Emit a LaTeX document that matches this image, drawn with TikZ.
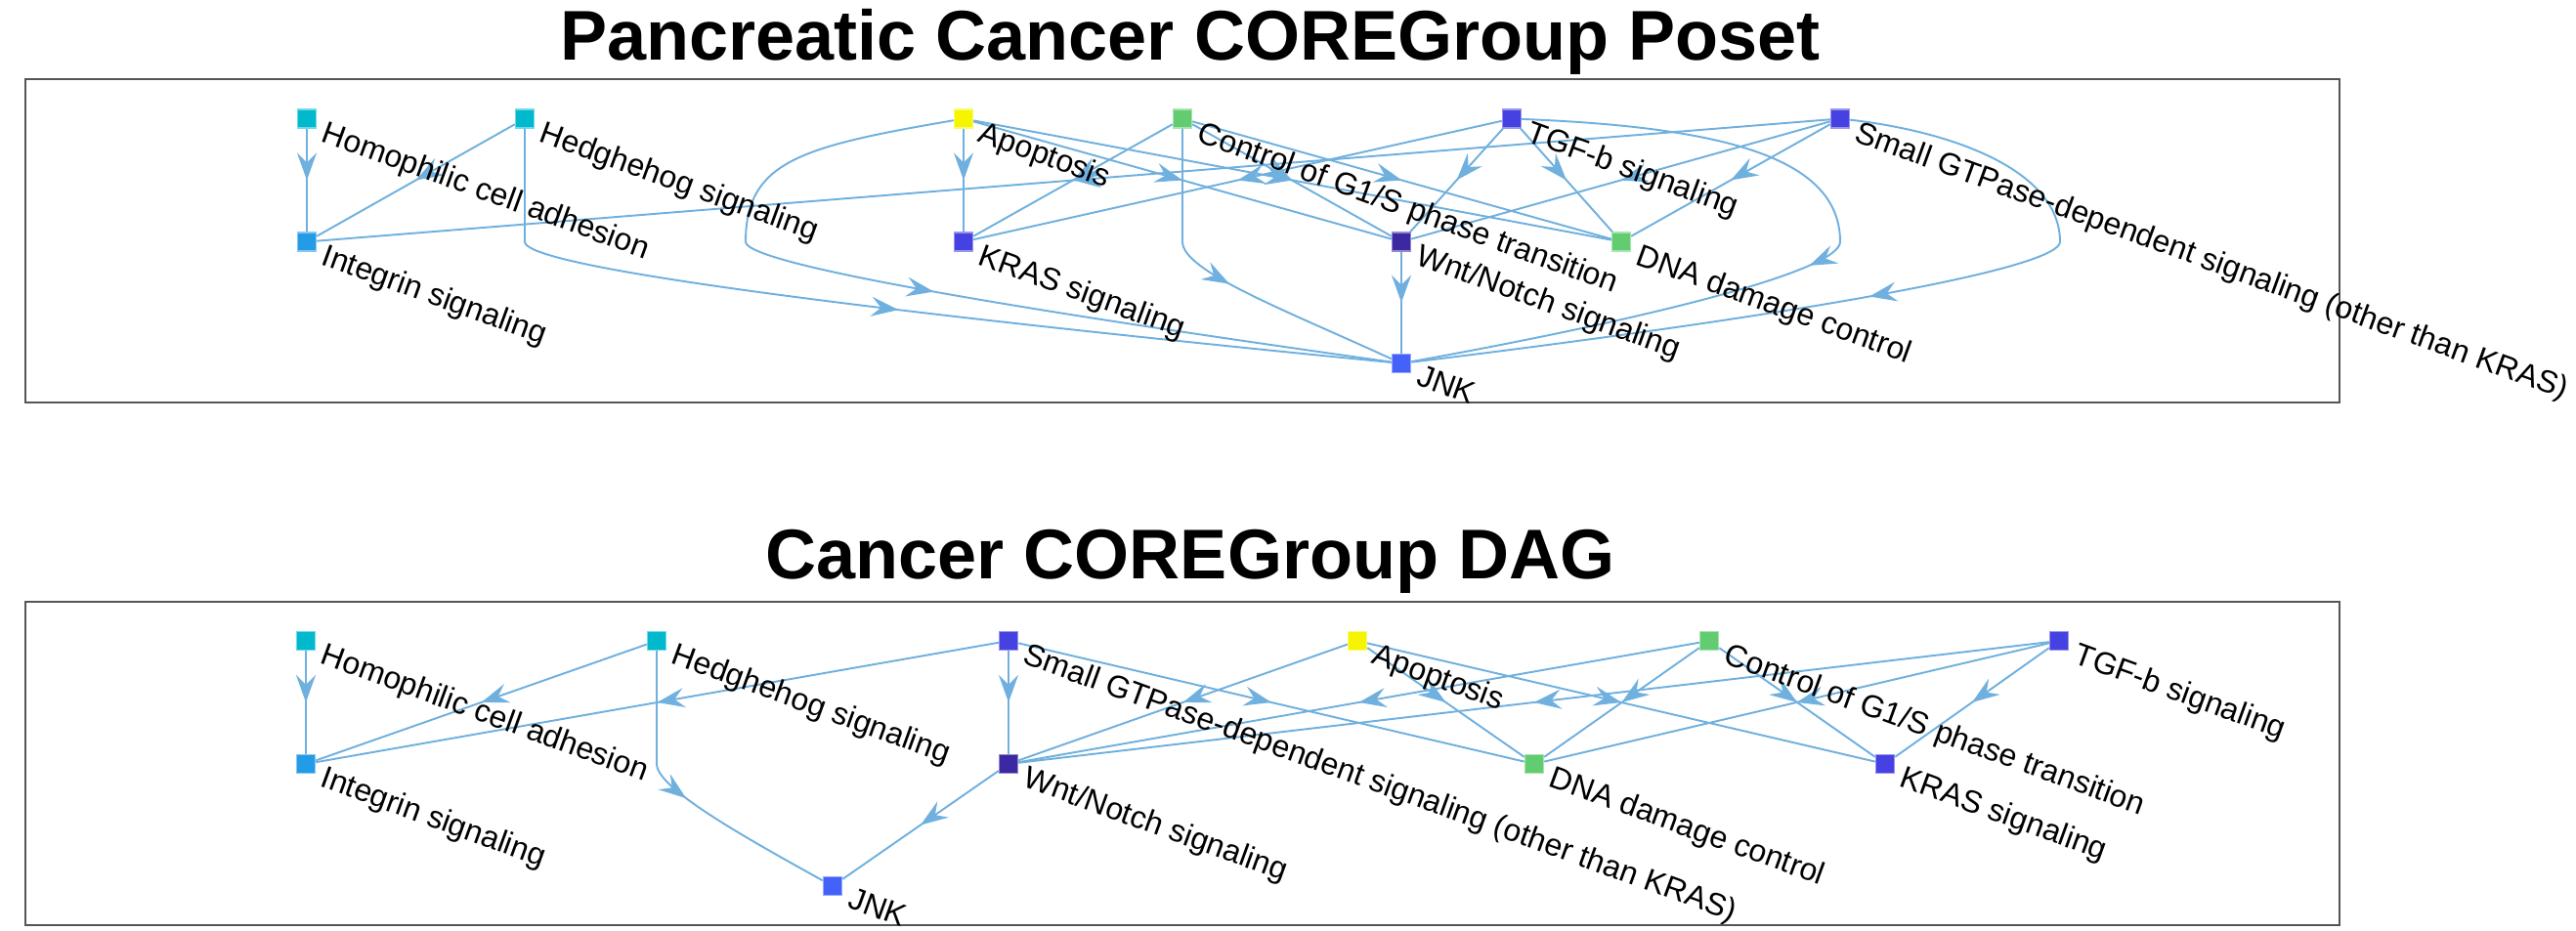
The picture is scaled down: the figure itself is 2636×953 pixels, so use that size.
\documentclass[tikz,border=0pt]{standalone}
\usepackage{fontspec}
\setmainfont{Liberation Sans}
\usetikzlibrary{arrows.meta,decorations.markings}
\definecolor{edgeblue}{RGB}{112,176,222}
\definecolor{cyanc}{RGB}{0,185,205}
\definecolor{intc}{RGB}{36,155,230}
\definecolor{yelc}{RGB}{245,245,0}
\definecolor{grnc}{RGB}{98,205,112}
\definecolor{bluc}{RGB}{70,65,225}
\definecolor{wntc}{RGB}{60,40,160}
\definecolor{jnkc}{RGB}{68,98,250}
\definecolor{framec}{RGB}{85,85,85}
\begin{document}
\begin{tikzpicture}[x=0.1mm,y=-0.1mm,
        sq/.style={rectangle,draw=#1!55!white,fill=#1,line width=0.4pt,
          inner sep=0pt,minimum size=1.9mm},
        lbl/.style={rotate=-20,anchor=north west,inner sep=0pt,
          font=\fontsize{9.1}{10}\selectfont},
        title/.style={anchor=base,inner sep=0pt,
          font=\fontsize{20.5}{24}\selectfont\bfseries},
        link/.style={draw=edgeblue,line width=0.55pt,postaction={decorate},
          decoration={markings,mark=at position 0.5 with
            {\arrow{Stealth[length=2.8mm,width=2mm,inset=1mm,color=edgeblue]}}}},
        frame/.style={draw=framec,line width=0.8pt}]
      \useasboundingbox (0,0) rectangle (2636,953);
      % poset
      \node (ttl1) at (1218,62) [title] {Pancreatic Cancer COREGroup Poset};
      \draw[frame] (26,81) rectangle (2394,412);
      \node (p1) at ( 314,121.5) [sq=cyanc] {};
      \node (p2) at ( 537,121.5) [sq=cyanc] {};
      \node (p3) at ( 986,121.5) [sq=yelc] {};
      \node (p4) at (1210,121.5) [sq=grnc] {};
      \node (p5) at (1547,121.5) [sq=bluc] {};
      \node (p6) at (1883,121.5) [sq=bluc] {};
      \node (p7) at ( 314,247.5) [sq=intc] {};
      \node (p8) at ( 986,247.5) [sq=bluc] {};
      \node (p9) at (1434,247.5) [sq=wntc] {};
      \node (p10) at (1659,247.5) [sq=grnc] {};
      \node (p11) at (1434,372) [sq=jnkc] {};
      \coordinate (v2) at ( 537,247.5);
      \coordinate (v3) at ( 763,247.5);
      \coordinate (v4) at (1210,247.5);
      \coordinate (v5) at (1883,247.5);
      \coordinate (v6) at (2108,247.5);
      \draw (p1) edge[link] (p7);
      \draw (p2) edge[link] (p7);
      \draw (p6) edge[link] (p7);
      \draw (p3) edge[link] (p8);
      \draw (p4) edge[link] (p8);
      \draw (p5) edge[link] (p8);
      \draw (p3) edge[link] (p9);
      \draw (p4) edge[link] (p9);
      \draw (p5) edge[link] (p9);
      \draw (p6) edge[link] (p9);
      \draw (p3) edge[link] (p10);
      \draw (p4) edge[link] (p10);
      \draw (p5) edge[link] (p10);
      \draw (p6) edge[link] (p10);
      \draw (p9) edge[link] (p11);
      \draw[link] (p2) -- (v2) .. controls +(0,18) and +(-734,-72) .. (p11);
      \draw[link] (p3) .. controls (820,150) and (763,165) .. (v3)
        .. controls +(0,18) and +(-500,-70) .. (p11);
      \draw[link] (p4) -- (v4) .. controls +(0,30) and +(-120,-55) .. (p11);
      \draw[link] (p5) .. controls (1760,130) and (1883,160) .. (v5)
        .. controls +(0,30) and +(250,-45) .. (p11);
      \draw[link] (p6) .. controls (2000,135) and (2108,175) .. (v6)
        .. controls +(0,25) and +(450,-55) .. (p11);
      \node (q1) at ([xshift=1.1mm]p1.east) [lbl] {Homophilic cell adhesion};
      \node (q2) at ([xshift=1.1mm]p2.east) [lbl] {Hedghehog signaling};
      \node (q3) at ([xshift=1.1mm]p3.east) [lbl] {Apoptosis};
      \node (q4) at ([xshift=1.1mm]p4.east) [lbl] {Control of G1/S phase transition};
      \node (q5) at ([xshift=1.1mm]p5.east) [lbl] {TGF-b signaling};
      \node (q6) at ([xshift=1.1mm]p6.east) [lbl] {Small GTPase-dependent signaling (other than KRAS)};
      \node (q7) at ([xshift=1.1mm]p7.east) [lbl] {Integrin signaling};
      \node (q8) at ([xshift=1.1mm]p8.east) [lbl] {KRAS signaling};
      \node (q9) at ([xshift=1.1mm]p9.east) [lbl] {Wnt/Notch signaling};
      \node (q10) at ([xshift=1.1mm]p10.east) [lbl] {DNA damage control};
      \node (q11) at ([xshift=1.1mm]p11.east) [lbl] {JNK};
      % dag
      \node (ttl2) at (1218,593) [title] {Cancer COREGroup DAG};
      \draw[frame] (26,616) rectangle (2394,947);
      \node (d1) at ( 313,656) [sq=cyanc] {};
      \node (d2) at ( 672,656) [sq=cyanc] {};
      \node (d3) at (1032,656) [sq=bluc] {};
      \node (d4) at (1389,656) [sq=yelc] {};
      \node (d5) at (1749,656) [sq=grnc] {};
      \node (d6) at (2107,656) [sq=bluc] {};
      \node (d7) at ( 313,782) [sq=intc] {};
      \node (d8) at (1032,782) [sq=wntc] {};
      \node (d9) at (1570,782) [sq=grnc] {};
      \node (d10) at (1929,782) [sq=bluc] {};
      \node (d11) at ( 852,907) [sq=jnkc] {};
      \coordinate (w2) at (672,782);
      \draw (d1) edge[link] (d7);
      \draw (d2) edge[link] (d7);
      \draw (d3) edge[link] (d7);
      \draw (d3) edge[link] (d8);
      \draw (d4) edge[link] (d8);
      \draw (d5) edge[link] (d8);
      \draw (d6) edge[link] (d8);
      \draw (d3) edge[link] (d9);
      \draw (d4) edge[link] (d9);
      \draw (d5) edge[link] (d9);
      \draw (d6) edge[link] (d9);
      \draw (d4) edge[link] (d10);
      \draw (d5) edge[link] (d10);
      \draw (d6) edge[link] (d10);
      \draw (d8) edge[link] (d11);
      \draw[link] (d2) -- (w2) .. controls +(0,25) and +(-90,-50) .. (d11);
      \node (e1) at ([xshift=1.1mm]d1.east) [lbl] {Homophilic cell adhesion};
      \node (e2) at ([xshift=1.1mm]d2.east) [lbl] {Hedghehog signaling};
      \node (e3) at ([xshift=1.1mm]d3.east) [lbl] {Small GTPase-dependent signaling (other than KRAS)};
      \node (e4) at ([xshift=1.1mm]d4.east) [lbl] {Apoptosis};
      \node (e5) at ([xshift=1.1mm]d5.east) [lbl] {Control of G1/S phase transition};
      \node (e6) at ([xshift=1.1mm]d6.east) [lbl] {TGF-b signaling};
      \node (e7) at ([xshift=1.1mm]d7.east) [lbl] {Integrin signaling};
      \node (e8) at ([xshift=1.1mm]d8.east) [lbl] {Wnt/Notch signaling};
      \node (e9) at ([xshift=1.1mm]d9.east) [lbl] {DNA damage control};
      \node (e10) at ([xshift=1.1mm]d10.east) [lbl] {KRAS signaling};
      \node (e11) at ([xshift=1.1mm]d11.east) [lbl] {JNK};
\end{tikzpicture}
\end{document}
